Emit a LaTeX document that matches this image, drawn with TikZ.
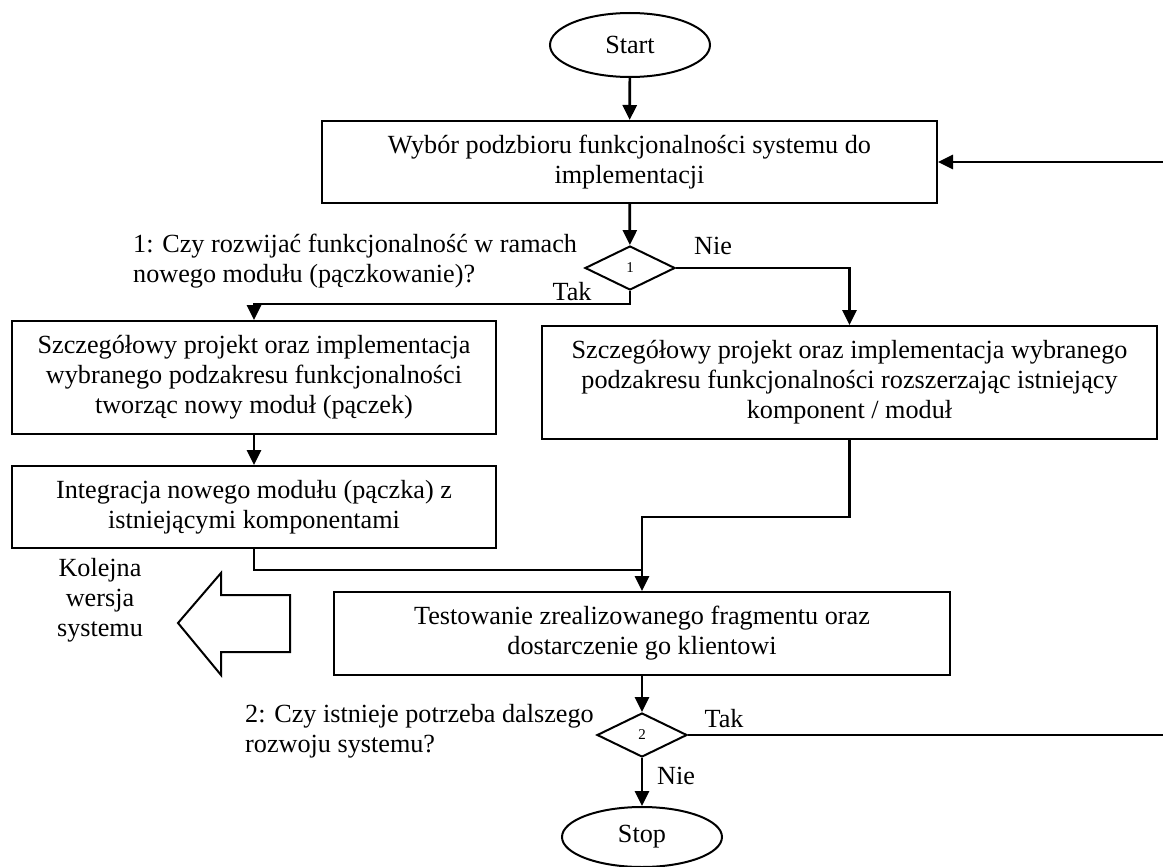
\documentclass[tikz,border=0pt]{standalone}
\usepackage{fontspec}
\setmainfont{Liberation Serif}
\usetikzlibrary{shapes.geometric,arrows.meta}
\begin{document}
\begin{tikzpicture}[x=1pt,y=-1pt,
  txt/.style={font=\fontsize{26.2}{30}\selectfont},
  boxnode/.style={draw,line width=2pt,inner sep=0pt,align=center,txt},
  term/.style={draw,ellipse,line width=2pt,minimum width=160pt,minimum height=64pt,inner sep=0pt,txt},
  dec/.style={draw,diamond,line width=2pt,minimum width=90pt,minimum height=44pt,inner sep=0pt,font=\fontsize{15}{17}\selectfont},
  conn/.style={line width=2.7pt},
  arr/.style={conn,-{Triangle[length=15pt,width=14pt]}},
  lbl/.style={txt,inner sep=0pt}
]
\useasboundingbox (0,0) rectangle (1163,867);

\node[term] (start) at (630,45) {Start};
\node[boxnode,minimum width=615pt,minimum height=82pt] (b1) at (629.5,162)
  {Wybór podzbioru funkcjonalności systemu do\\implementacji};
\node[dec] (d1) at (630,268) {1};
\node[boxnode,minimum width=484pt,minimum height=113pt] (b2) at (254,377.5)
  {Szczegółowy projekt oraz implementacja\\wybranego podzakresu funkcjonalności\\tworząc nowy moduł (pączek)};
\node[boxnode,minimum width=484pt,minimum height=82pt] (b4) at (254,507)
  {Integracja nowego modułu (pączka) z\\istniejącymi komponentami};
\node[boxnode,minimum width=615pt,minimum height=113pt] (b3) at (849.5,382.5)
  {Szczegółowy projekt oraz implementacja wybranego\\podzakresu funkcjonalności rozszerzając istniejący\\komponent / moduł};
\node[boxnode,minimum width=616pt,minimum height=83pt] (test) at (642,633.5)
  {Testowanie zrealizowanego fragmentu oraz\\dostarczenie go klientowi};
\node[dec] (d2) at (642,735) {2};
\node[term,minimum height=60pt] (stop) at (642,837) {Stop};

% labels
\node[lbl,anchor=west,align=left] (q1) at (133,261)
  {1: Czy rozwijać funkcjonalność w ramach\\nowego modułu (pączkowanie)?};
\node[lbl] (nie1) at (713,246) {Nie};
\node[lbl] (tak1) at (572,292) {Tak};
\node[lbl,anchor=west,align=left] (q2) at (245,731)
  {2: Czy istnieje potrzeba dalszego\\rozwoju systemu?};
\node[lbl] (tak2) at (724,719) {Tak};
\node[lbl] (nie2) at (676,776) {Nie};
\node[lbl,align=center] (kw) at (100,600) {Kolejna\\wersja\\systemu};

% big arrow
\draw[line width=2pt,line join=miter] (178,623) -- (221,573) -- (221,595) -- (290,595)
  -- (290,652) -- (221,652) -- (221,675) -- cycle;

% connectors
\coordinate (t1) at (630,304);
\coordinate (j1) at (642,570);
\coordinate (e1) at (1163,735);
\coordinate (e2) at (1163,162);

\draw[arr] (start) -- (b1);
\draw[arr] (b1) -- (d1);
\draw[arr] (d1.south) -- (t1) -| (b2.north);
\draw[arr] (d1.east) -| (b3.north);
\draw[arr] (b2) -- (b4);
\draw[conn] (b4.south) |- (j1);
\draw[arr] (b3.south) -- ++(0,77) -| (test.north);
\draw[arr] (test) -- (d2);
\draw[arr] (d2) -- (stop);
\draw[conn] (d2.east) -- (e1);
\draw[arr] (e2) -- (b1.east);
\end{tikzpicture}
\end{document}
